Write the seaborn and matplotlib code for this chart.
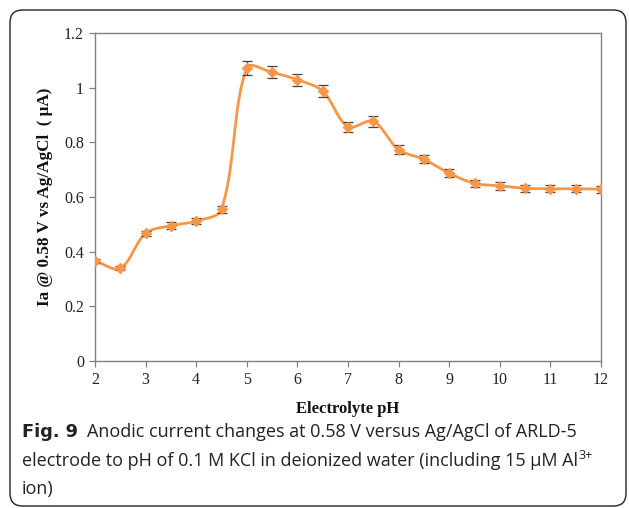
import numpy as np
import pandas as pd
import matplotlib
matplotlib.use("Agg")
import matplotlib.pyplot as plt
from matplotlib.patches import FancyBboxPatch
import seaborn as sns

# Electrolyte pH and measured anodic current (uA) with standard deviations
ph = [2, 2.5, 3, 3.5, 4, 4.5, 5, 5.5, 6, 6.5, 7, 7.5, 8, 8.5, 9, 9.5, 10, 10.5, 11, 11.5, 12]
current = [0.366, 0.339, 0.467, 0.495, 0.512, 0.555, 1.073, 1.056, 1.029, 0.987, 0.857,
           0.877, 0.773, 0.738, 0.687, 0.650, 0.641, 0.632, 0.630, 0.630, 0.629]
std_err = [0.008, 0.007, 0.010, 0.012, 0.012, 0.012, 0.025, 0.022, 0.022, 0.022, 0.018,
           0.020, 0.016, 0.015, 0.014, 0.014, 0.014, 0.013, 0.013, 0.013, 0.013]
x_ticks = [2, 3, 4, 5, 6, 7, 8, 9, 10, 11, 12]
y_ticks = [0, 0.2, 0.4, 0.6, 0.8, 1.0, 1.2]
y_tick_labels = ["0", "0.2", "0.4", "0.6", "0.8", "1", "1.2"]

ORANGE = "#F79646"
W, H = 629, 508


def smooth_curve(ax, xs, ys, n=40, tension=1 / 3):
    """Smoothed line through every point, built in screen space with
    control arms scaled by neighbouring segment lengths."""
    pts = ax.transData.transform(np.column_stack([xs, ys]))
    p = np.vstack([pts[0], pts, pts[-1]])
    t = np.linspace(0, 1, n)[:, None]
    out = []
    for i in range(1, len(p) - 2):
        p0, p1, p2, p3 = p[i - 1], p[i], p[i + 1], p[i + 2]
        d01 = np.linalg.norm(p1 - p0)
        d12 = np.linalg.norm(p2 - p1)
        d23 = np.linalg.norm(p3 - p2)
        c1 = p1 + (p2 - p0) * tension * d12 / max(d01 + d12, 1e-9)
        c2 = p2 - (p3 - p1) * tension * d12 / max(d12 + d23, 1e-9)
        b = (1 - t) ** 3 * p1 + 3 * (1 - t) ** 2 * t * c1 + 3 * (1 - t) * t ** 2 * c2 + t ** 3 * p2
        out.append(b)
    out = np.vstack(out)
    data = ax.transData.inverted().transform(out)
    return data[:, 0], data[:, 1]


sns.set_theme(style="white")
plt.rcParams["font.family"] = ["Liberation Serif", "DejaVu Serif"]

fig = plt.figure(figsize=(W / 100, H / 100), dpi=100)
ax = fig.add_axes([95 / W, 1 - 361 / H, (601 - 95) / W, (361 - 33) / H])
ax.set_xlim(2, 12)
ax.set_ylim(0, 1.2)

df = pd.DataFrame({"pH": ph, "current": current, "err": std_err})
sx, sy = smooth_curve(ax, ph, current)
curve = pd.DataFrame({"pH": sx, "current": sy})

sns.lineplot(data=curve, x="pH", y="current", sort=False, color=ORANGE, lw=2.0, ax=ax, zorder=2)
ax.errorbar(df["pH"], df["current"], yerr=df["err"], fmt="none", ecolor="#404040",
            elinewidth=0.9, capsize=3.5, capthick=0.9, zorder=3)
sns.scatterplot(data=df, x="pH", y="current", marker="D", s=30, color=ORANGE,
                edgecolor=ORANGE, linewidth=0.5, ax=ax, zorder=4)

ax.set_xlim(2, 12)
ax.set_ylim(0, 1.2)
ax.set_xticks(x_ticks)
ax.set_xticklabels([str(v) for v in x_ticks])
ax.set_yticks(y_ticks)
ax.set_yticklabels(y_tick_labels)
ax.tick_params(axis="both", which="major", direction="out", length=4, width=0.9,
               color="#808080", labelsize=11.5, labelcolor="#222222", pad=4)
ax.tick_params(left=True, bottom=True)
for side in ["left", "bottom", "top", "right"]:
    ax.spines[side].set_visible(True)
    ax.spines[side].set_color("#808080")
    ax.spines[side].set_linewidth(1.0)

ax.set_xlabel("Electrolyte pH", fontsize=12, fontweight="bold", color="#111111", labelpad=9)
ax.set_ylabel("Ia @ 0.58 V vs Ag/AgCl  ( \u03bcA)", fontsize=12.3, fontweight="bold",
              color="#111111", labelpad=8)

# rounded frame around figure and caption
frame = FancyBboxPatch((10 / W, 2 / H), 616 / W, 496 / H,
                       boxstyle="round,pad=0,rounding_size=0.02",
                       transform=fig.transFigure, fill=False, ec="#222222", lw=1.0,
                       mutation_aspect=W / H)
fig.patches.append(frame)

cap_font = ["Open Sans", "DejaVu Sans"]
cap_size = 13.0
cap_color = "#222222"
cap_left = 22 / W
renderer = fig.canvas.get_renderer()


def right_edge(txt):
    bb = txt.get_window_extent(renderer=renderer)
    return bb.x1 / W


fig_lbl = fig.text(cap_left, 1 - 437 / H, "Fig. 9", family=["DejaVu Sans"], fontsize=12.8,
                   fontweight="bold", color=cap_color, va="baseline")
fig.text(right_edge(fig_lbl) + 9 / W, 1 - 437 / H,
         "Anodic current changes at 0.58 V versus Ag/AgCl of ARLD-5",
         family=cap_font, fontsize=cap_size, color=cap_color, va="baseline")
line2 = fig.text(cap_left, 1 - 466 / H,
                 "electrode to pH of 0.1 M KCl in deionized water (including 15 \u03bcM Al",
                 family=cap_font, fontsize=cap_size, color=cap_color, va="baseline")
fig.text(right_edge(line2) + 0.5 / W, 1 - 459 / H, "3+", family=cap_font,
         fontsize=cap_size * 0.7, color=cap_color, va="baseline")
fig.text(cap_left, 1 - 494 / H, "ion)", family=cap_font, fontsize=cap_size,
         color=cap_color, va="baseline")

fig.savefig("out.png", dpi=100)
